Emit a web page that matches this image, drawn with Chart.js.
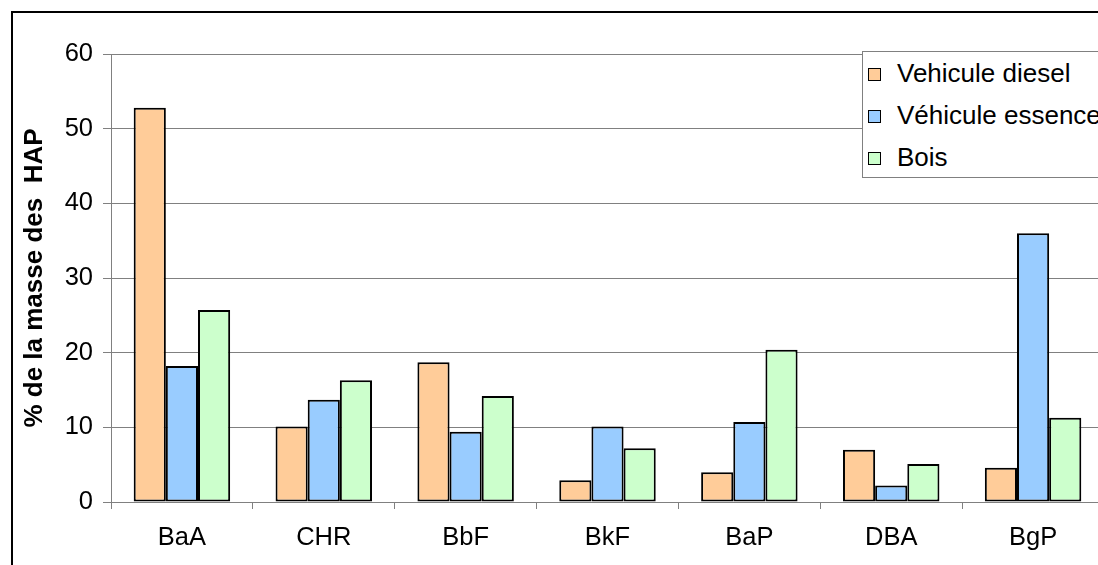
<!DOCTYPE html>
<html>
<head>
<meta charset="utf-8">
<script src="https://cdn.jsdelivr.net/npm/chart.js@4.4.0/dist/chart.umd.min.js"></script>
<style>
  html, body { margin: 0; padding: 0; background: #fff; overflow: hidden; width: 1098px; height: 565px; }
  #frame { position: absolute; left: 11px; top: 11px; width: 1200px; height: 700px; border: 2px solid #000; box-sizing: border-box; }
  #wrap { position: absolute; left: 0; top: 0; width: 1130px; height: 565px; }
  #legend { position: absolute; left: 862px; top: 51px; width: 260px; height: 127px; border: 1px solid #808080; background: #fff; box-sizing: border-box; font-family: "Liberation Sans", Arial, sans-serif; font-size: 26px; color: #000; }
  .item { position: absolute; left: 0; height: 30px; line-height: 30px; white-space: nowrap; }
  .sw { position: absolute; left: 5px; top: 10px; width: 11px; height: 11px; border: 1.5px solid #000; }
  .lbl { position: absolute; left: 34px; top: 0; }
</style>
</head>
<body>
<div id="wrap"><canvas id="c" width="1130" height="565"></canvas></div>
<div id="frame"></div>
<div id="legend"></div>
<script>
const categories = ["BaA", "CHR", "BbF", "BkF", "BaP", "DBA", "BgP"];
const seriesNames = ["Vehicule diesel", "Véhicule essence", "Bois"];
const diesel = [52.8, 10.1, 18.7, 2.9, 4.0, 7.0, 4.6];
const essence = [18.2, 13.7, 9.4, 10.1, 10.7, 2.2, 36.0];
const bois = [25.7, 16.3, 14.2, 7.2, 20.4, 5.1, 11.3];
const yTicks = [0, 10, 20, 30, 40, 50, 60];
const yTitle = "% de la masse des  HAP";
const colors = ["#FFCC99", "#99CCFF", "#CCFFCC"];

const seriesValues = [diesel, essence, bois];
const datasets = seriesNames.map((n, i) => ({
  label: n,
  data: seriesValues[i],
  backgroundColor: colors[i],
  borderColor: "#000",
  borderWidth: 2,
  borderSkipped: false,
  categoryPercentage: 0.68,
  barPercentage: 1.0
}));

const font = { family: "'Liberation Sans', Arial, sans-serif", size: 25.5 };

new Chart(document.getElementById("c"), {
  type: "bar",
  data: { labels: categories, datasets },
  options: {
    responsive: false,
    animation: false,
    layout: { padding: { top: 54, right: 26, left: 0, bottom: 0 } },
    plugins: { legend: { display: false }, tooltip: { enabled: false } },
    scales: {
      x: {
        grid: { offset: true, drawOnChartArea: false, drawTicks: true, tickLength: 7, color: "#808080", lineWidth: 1 },
        border: { color: "#808080", width: 1 },
        ticks: { color: "#000", font, padding: 14, maxRotation: 0 },
        afterFit: s => { s.height = 63; }
      },
      y: {
        min: 0, max: 60,
        afterBuildTicks: s => { s.ticks = yTicks.map(v => ({ value: v })); },
        grid: { color: "#808080", lineWidth: 1, tickLength: 8 },
        border: { color: "#808080", width: 1 },
        ticks: { color: "#000", font, padding: 10 },
        title: { display: true, text: yTitle, color: "#000", font: { family: "'Liberation Sans', Arial, sans-serif", size: 26, weight: "bold" }, padding: { top: 19, bottom: 0 } },
        afterFit: s => { s.width = 111; }
      }
    }
  }
});

const lg = document.getElementById("legend");
seriesNames.forEach((n, i) => {
  const it = document.createElement("div");
  it.className = "item";
  it.style.top = (6 + i * 42) + "px";
  it.innerHTML = '<div class="sw" style="background:' + colors[i] + '"></div><span class="lbl"></span>';
  it.querySelector(".lbl").textContent = n;
  lg.appendChild(it);
});
</script>
</body>
</html>
